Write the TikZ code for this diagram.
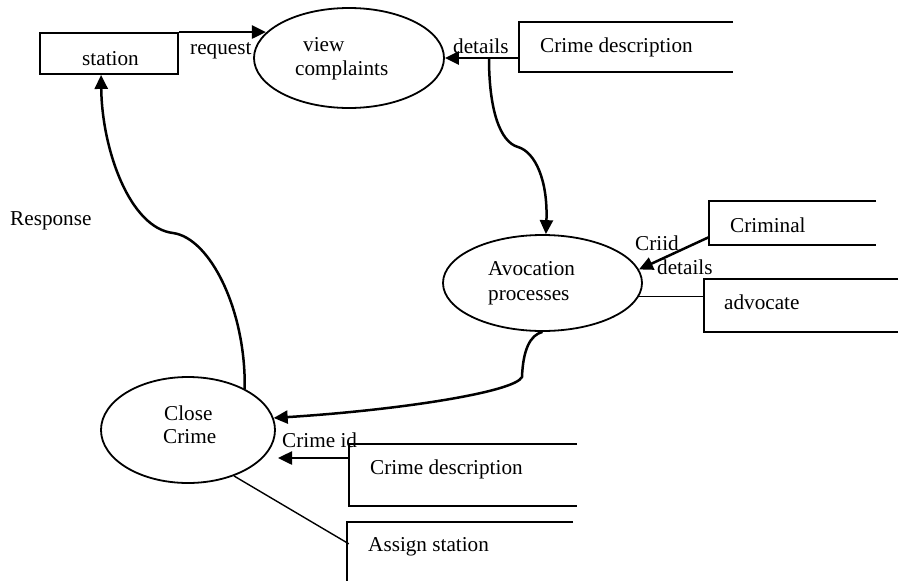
\documentclass[tikz,border=0pt]{standalone}
\usepackage{fontspec}
\setmainfont{Liberation Serif}
\usetikzlibrary{shapes.geometric,arrows.meta,calc}
\newcommand\dfdfs{\fontsize{21.2}{25}\selectfont}
\begin{document}
\begin{tikzpicture}[x=1pt,y=-1pt,
  proc/.style={ellipse,draw,line width=1.8pt,inner sep=0pt},
  storebox/.style={rectangle,inner sep=0pt},
  boxline/.style={line width=1.9pt},
  flow/.style={line width=2.5pt,-{Triangle[length=14pt,width=13pt]}},
  link/.style={line width=1.4pt},
  lbl/.style={anchor=base west,inner sep=0pt,font=\dfdfs}]
\useasboundingbox (0,0) rectangle (899,581);
% processes
\node[proc,minimum width=190pt,minimum height=100pt] (vc) at (349,58) {};
\node[proc,minimum width=199pt,minimum height=96pt] (av) at (542.5,283) {};
\node[proc,minimum width=174pt,minimum height=106pt] (cc) at (188,430) {};
% station box
\node[rectangle,draw,line width=1.9pt,minimum width=138pt,minimum height=41pt,inner sep=0pt] (station) at (109,53.5) {};
% stores (open on the right)
\node[storebox,minimum width=214pt,minimum height=50pt] (cd1) at (626,47) {};
\node[storebox,minimum width=167pt,minimum height=44pt] (crm) at (792.5,223) {};
\node[storebox,minimum width=194pt,minimum height=53pt] (adv) at (801,305.5) {};
\node[storebox,minimum width=228pt,minimum height=62pt] (cd2) at (463,475) {};
\node[storebox,minimum width=226pt,minimum height=59pt] (as) at (460,551.5) {};
\draw[boxline] (cd1.north east) -- (cd1.north west) -- (cd1.south west) -- (cd1.south east);
\draw[boxline] (crm.north east) -- (crm.north west) -- (crm.south west) -- (crm.south east);
\draw[boxline] (adv.north east) -- (adv.north west) -- (adv.south west) -- (adv.south east);
\draw[boxline] (cd2.north east) -- (cd2.north west) -- (cd2.south west) -- (cd2.south east);
\draw[boxline] (as.north east) -- (as.north west) -- (as.south west);
% texts
\node[lbl] (t-station) at (82,65) {station};
\node[lbl] (t-request) at (190,54) {request};
\node[lbl] (t-view) at (303,51) {view};
\node[lbl] (t-compl) at (295,75) {complaints};
\node[lbl] (t-det1) at (453,53) {details};
\node[lbl] (t-cd1) at (540,52) {Crime description};
\node[lbl] (t-crm) at (730,232) {Criminal};
\node[lbl] (t-criid) at (635,250) {Criid};
\node[lbl] (t-det2) at (657,274) {details};
\node[lbl] (t-avoc) at (488,275) {Avocation};
\node[lbl] (t-proc) at (488,300) {processes};
\node[lbl] (t-adv) at (724,309) {advocate};
\node[lbl] (t-resp) at (10,225) {Response};
\node[lbl] (t-close) at (164,420) {Close};
\node[lbl] (t-crime) at (163,443) {Crime};
\node[lbl] (t-cid) at (282,447) {Crime id};
\node[lbl] (t-cd2) at (370,474) {Crime description};
\node[lbl] (t-as) at (368,551) {Assign station};
% helper coordinates
\coordinate (d1) at (489,58);
\coordinate (c1) at ($(crm.south west)+(0,-8)$);
\coordinate (ci) at (278,458);
\coordinate (a1) at ($(as.north west)+(2,22)$);
\coordinate (s1) at ($(station.south west)+(62,0)$);
% connectors
\draw[flow] (station.north east) -- (station.north east -| vc.163);
\draw[flow] (cd1.west |- vc.east) -- (vc.east);
\draw[flow] (d1) .. controls (489,110) and (500,142) .. (518,147)
  .. controls (535,152) and (548,180) .. (av.86);
\draw[flow] (c1) -- (av.8);
\draw[link] (av.-8) -- (av.-8 -| adv.west);
\draw[flow] (av.south) .. controls (530,335) and (523,350) .. (522,377)
  .. controls (515,392) and (400,410) .. (cc.8);
\draw[flow] (cd2.west |- ci) -- (ci);
\draw[link] (cc.-45) -- (a1);
\draw[flow] (cc.36) .. controls (246,310) and (210,238) .. (173,233)
  .. controls (130,228) and (102,150) .. (s1);
\end{tikzpicture}
\end{document}
